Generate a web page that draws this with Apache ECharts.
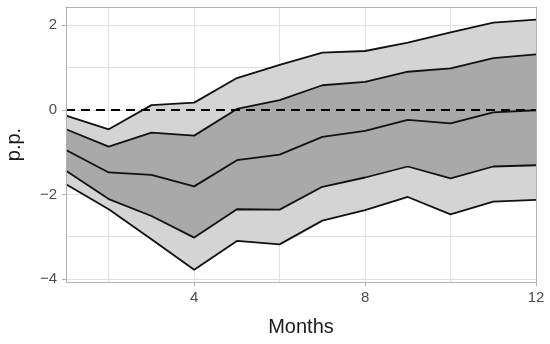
<!DOCTYPE html>
<html>
<head>
<meta charset="utf-8">
<script src="https://cdn.jsdelivr.net/npm/echarts@6/dist/echarts.min.js"></script>
<style>html,body{margin:0;padding:0;background:#fff}#c{width:550px;height:344px}</style>
</head>
<body>
<div id="c"></div>
<script>
var months = ['1','2','3','4','5','6','7','8','9','10','11','12'];
var upperOuter = [-0.14,-0.46,0.11,0.17,0.75,1.06,1.35,1.39,1.59,1.83,2.06,2.13];
var upperInner = [-0.46,-0.87,-0.54,-0.61,0.02,0.23,0.58,0.66,0.90,0.98,1.22,1.31];
var median     = [-0.95,-1.48,-1.54,-1.81,-1.19,-1.06,-0.64,-0.50,-0.24,-0.32,-0.06,-0.01];
var lowerInner = [-1.44,-2.11,-2.51,-3.02,-2.35,-2.36,-1.82,-1.60,-1.34,-1.62,-1.34,-1.31];
var lowerOuter = [-1.76,-2.35,-3.06,-3.78,-3.10,-3.18,-2.62,-2.37,-2.06,-2.47,-2.17,-2.13];
var xTicks = ['4','8','12'];
var yTicks = [-4,-2,0,2];
var xGrid = ['2','4','6','8','10'];
var yGrid = [-4,-3,-2,-1,0,1,2];

function diff(a,b){ return a.map(function(v,i){ return +(v-b[i]).toFixed(3); }); }
function isTick(idx){ return xTicks.indexOf(months[idx]) >= 0; }

var FONT = '"Liberation Sans", Arial, sans-serif';
var LIGHT = '#d4d4d4', DARK = '#a9a9a9';

var chart = echarts.init(document.getElementById('c'), null, {renderer:'canvas'});
var bandBase = {type:'line', stack:'band', stackStrategy:'all', symbol:'none', lineStyle:{width:0}, z:2, silent:true};
var lineBase = {type:'line', symbol:'none', lineStyle:{color:'#111', width:1.8}, z:4, silent:true};

chart.setOption({
  animation:false,
  backgroundColor:'#fff',
  grid:{left:66, top:7, width:470, height:275, show:false, containLabel:false, outerBoundsMode:'none'},
  xAxis:[{
    type:'category', data:months, boundaryGap:false,
    name:'Months', nameLocation:'middle', nameGap:35,
    nameTextStyle:{fontFamily:FONT, fontSize:20, color:'#1a1a1a'},
    axisLine:{show:true, onZero:false, lineStyle:{color:'#b3b3b3', width:1}},
    axisTick:{show:true, interval:function(i){ return isTick(i); }, length:4, lineStyle:{color:'#b3b3b3'}},
    axisLabel:{interval:function(i){ return isTick(i); }, showMaxLabel:true, margin:8, fontFamily:FONT, fontSize:15, color:'#4d4d4d'},
    splitLine:{show:false}, z:10
  },{
    type:'category', data:months, boundaryGap:false, position:'top',
    axisLine:{show:true, onZero:false, lineStyle:{color:'#b3b3b3', width:1}},
    axisTick:{show:false}, axisLabel:{show:false}, splitLine:{show:false}, z:10
  }],
  yAxis:[{
    type:'value', min:-4.07, max:2.43,
    name:'p.p.', nameLocation:'middle', nameGap:42, nameRotate:90,
    nameTextStyle:{fontFamily:FONT, fontSize:20, color:'#1a1a1a'},
    axisLine:{show:true, onZero:false, lineStyle:{color:'#b3b3b3', width:1}},
    axisTick:{show:true, customValues:yTicks, length:4, lineStyle:{color:'#b3b3b3'}},
    axisLabel:{customValues:yTicks, margin:9, fontFamily:FONT, fontSize:15, color:'#4d4d4d',
      formatter:function(v){ return String(v).replace('-', '\u2212'); }},
    splitLine:{show:false}, z:10
  },{
    type:'value', min:-4.07, max:2.43, position:'right',
    axisLine:{show:true, onZero:false, lineStyle:{color:'#b3b3b3', width:1}},
    axisTick:{show:false}, axisLabel:{show:false}, splitLine:{show:false}, z:10
  }],
  series:[
    {type:'line', data:[], silent:true, z:1,
     markLine:{silent:true, symbol:'none', z:1, animation:false, label:{show:false},
       lineStyle:{color:'#e0e0e0', width:1, type:'solid'},
       data: xGrid.map(function(v){return {xAxis:v};}).concat(yGrid.map(function(v){return {yAxis:v};}))}},
    Object.assign({}, bandBase, {name:'base', data:lowerOuter}),
    Object.assign({}, bandBase, {name:'lowLight', data:diff(lowerInner, lowerOuter), areaStyle:{color:LIGHT, opacity:1}}),
    Object.assign({}, bandBase, {name:'dark', data:diff(upperInner, lowerInner), areaStyle:{color:DARK, opacity:1}}),
    Object.assign({}, bandBase, {name:'upLight', data:diff(upperOuter, upperInner), areaStyle:{color:LIGHT, opacity:1}}),
    Object.assign({}, lineBase, {data:upperOuter}),
    Object.assign({}, lineBase, {data:upperInner}),
    Object.assign({}, lineBase, {data:median}),
    Object.assign({}, lineBase, {data:lowerInner}),
    Object.assign({}, lineBase, {data:lowerOuter,
      markLine:{silent:true, symbol:'none', z:6, animation:false, label:{show:false},
        lineStyle:{color:'#000', width:2, type:[9,6]}, data:[{yAxis:0}]}})
  ]
});
</script>
</body>
</html>
